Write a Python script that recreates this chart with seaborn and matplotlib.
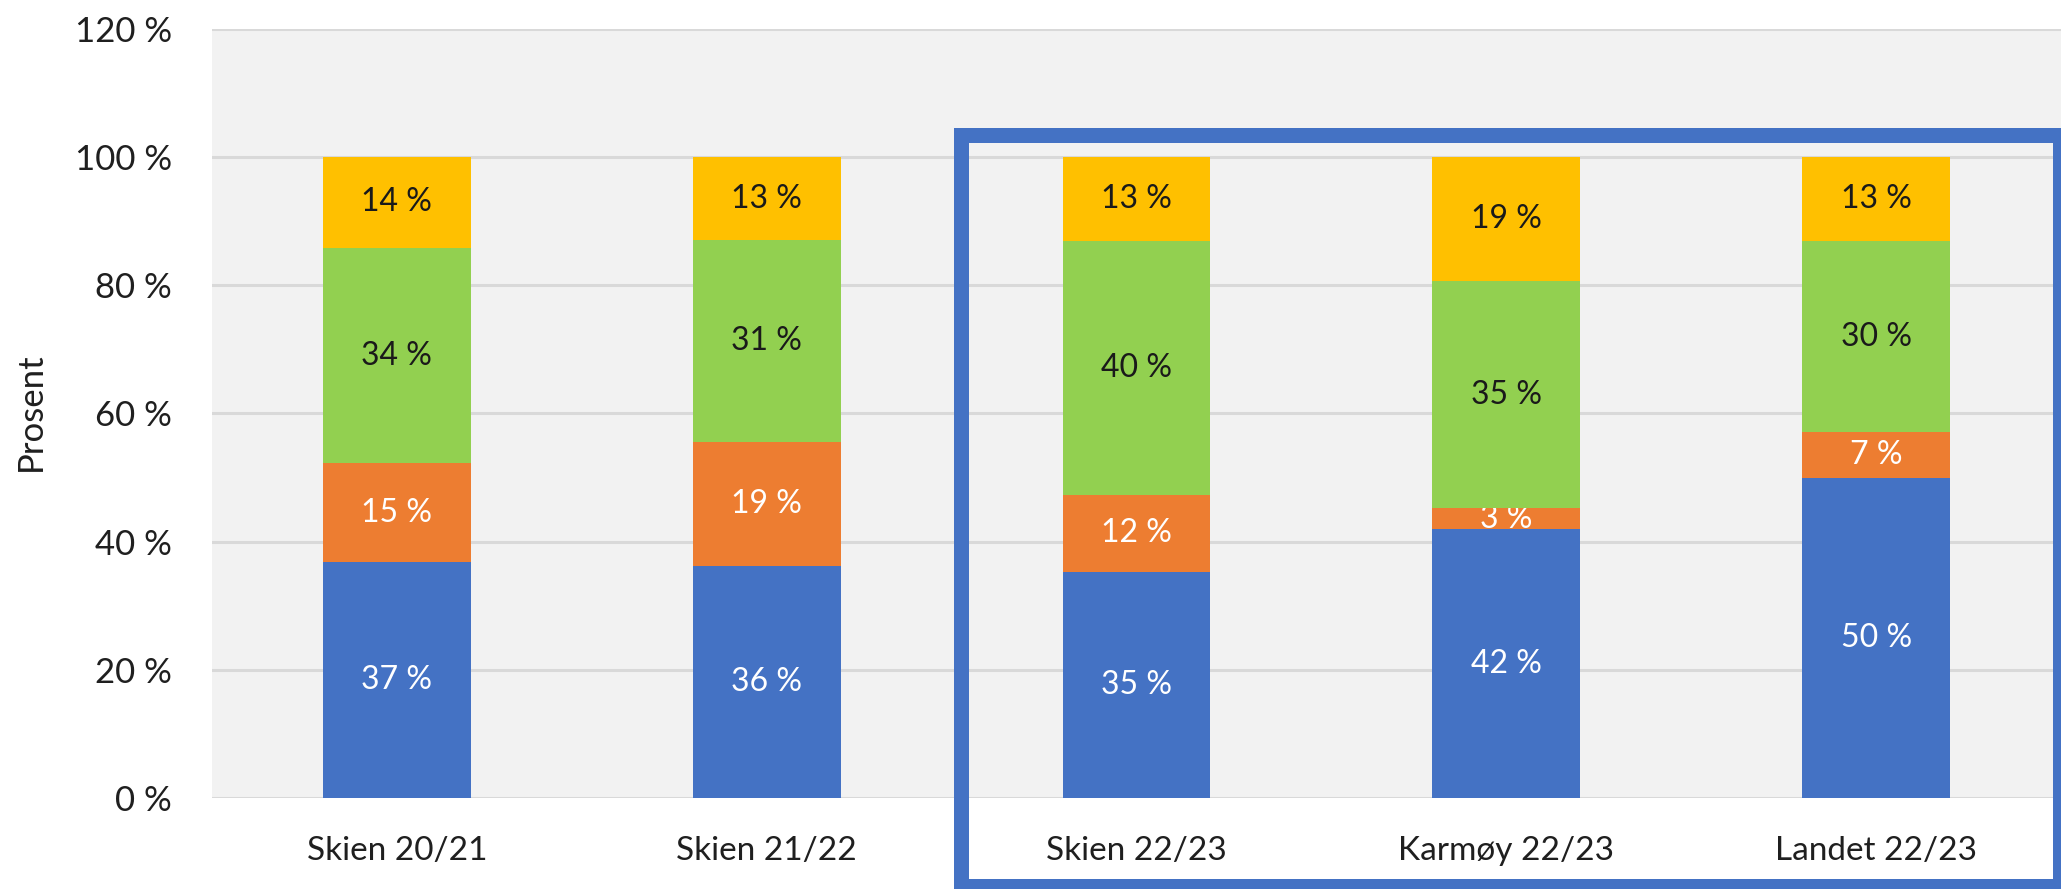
import numpy as np
import pandas as pd
import matplotlib
matplotlib.use("Agg")
import matplotlib.pyplot as plt
from matplotlib.patches import Rectangle
import seaborn as sns

categories = ["Skien 20/21", "Skien 21/22", "Skien 22/23", "Karmøy 22/23", "Landet 22/23"]
blue_vals = [36.8, 36.2, 35.3, 41.9, 50.0]
orange_vals = [15.4, 19.4, 12.0, 3.4, 7.1]
green_vals = [33.7, 31.4, 39.6, 35.3, 29.8]
yellow_vals = [14.1, 13.0, 13.1, 19.4, 13.1]
blue_labels = [37, 36, 35, 42, 50]
orange_labels = [15, 19, 12, 3, 7]
green_labels = [34, 31, 40, 35, 30]
yellow_labels = [14, 13, 13, 19, 13]
y_ticks = [0, 20, 40, 60, 80, 100, 120]
y_label = "Prosent"

sns.set_theme(style="white")
plt.rcParams["font.family"] = ["Lato", "DejaVu Sans"]

W, H = 2061, 889
fig = plt.figure(figsize=(W / 100, H / 100), dpi=100)
fig.patch.set_facecolor("white")
ax = fig.add_axes([212 / W, (H - 798) / H, 1 - 212 / W, (798 - 29) / H])
ax.set_facecolor("#F2F2F2")

series = [
    (blue_vals, blue_labels, "#4472C4", "white"),
    (orange_vals, orange_labels, "#ED7D31", "white"),
    (green_vals, green_labels, "#92D050", "#1a1a1a"),
    (yellow_vals, yellow_labels, "#FFC000", "#1a1a1a"),
]

bottom = np.zeros(len(categories))
for vals, labs, col, tcol in series:
    df = pd.DataFrame({"cat": categories, "val": vals})
    n_before = len(ax.containers)
    sns.barplot(data=df, x="cat", y="val", order=categories, color=col,
                width=0.4, bottom=bottom.copy(), ax=ax, errorbar=None,
                saturation=1, linewidth=0, zorder=3)
    cont = ax.containers[-1]
    ax.bar_label(cont, labels=[f"{v} %" for v in labs], label_type="center",
                 color=tcol, fontsize=23)
    bottom = bottom + np.array(vals)

ax.set_ylim(0, 120)
ax.set_xlim(-0.5, len(categories) - 0.5)
ax.set_yticks(y_ticks)
ax.set_yticklabels([f"{t} %" for t in y_ticks])
ax.yaxis.grid(True, color="#D9D9D9", linewidth=2.2, zorder=0)
ax.xaxis.grid(False)
ax.set_axisbelow(True)
for s in ax.spines.values():
    s.set_visible(False)
ax.tick_params(axis="y", length=0, pad=29, labelsize=25, labelcolor="#1f1f1f")
ax.tick_params(axis="x", length=0, pad=27, labelsize=24, labelcolor="#1f1f1f")
ax.set_xlabel("")
ax.set_ylabel("")

fig.text(31 / W, 1 - 412 / H, y_label, rotation=90, ha="center", va="center",
         fontsize=25, color="#1f1f1f")

rect = Rectangle((960.5 / W, (H - 885.5) / H), (2059.5 - 960.5) / W, (885.5 - 134.5) / H,
                 transform=fig.transFigure, fill=False, edgecolor="#4472C4",
                 linewidth=10.8, zorder=10, clip_on=False)
fig.add_artist(rect)

fig.savefig("out.png", dpi=100, facecolor="white")
